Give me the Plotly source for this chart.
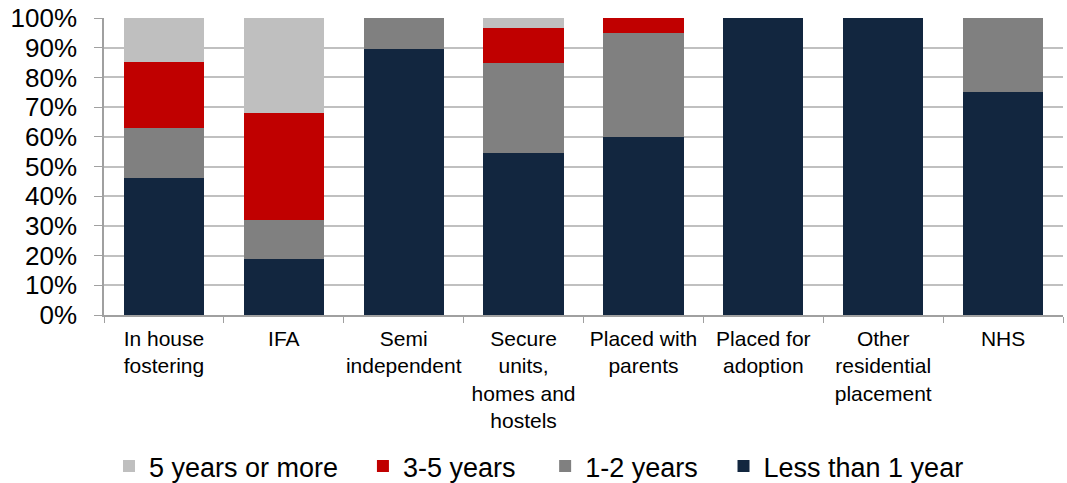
import plotly.graph_objects as go

categories = ["In house<br>fostering", "IFA", "Semi<br>independent",
              "Secure<br>units,<br>homes and<br>hostels", "Placed with<br>parents",
              "Placed for<br>adoption", "Other<br>residential<br>placement", "NHS"]
less_than_1 = [46.1, 18.9, 89.6, 54.5, 60.0, 100, 100, 75]
one_two = [16.9, 13.1, 10.4, 30.3, 35.0, 0, 0, 25]
three_five = [22.2, 36.0, 0, 11.8, 5.0, 0, 0, 0]
five_plus = [14.8, 32.0, 0, 3.4, 0, 0, 0, 0]

series = [
    ("Less than 1 year", less_than_1, "#12263f", "legend4"),
    ("1-2 years", one_two, "#808080", "legend3"),
    ("3-5 years", three_five, "#c00000", "legend2"),
    ("5 years or more", five_plus, "#bfbfbf", "legend"),
]

fig = go.Figure()
for name, vals, col, lg in series:
    fig.add_trace(go.Bar(x=categories, y=vals, name=name, legend=lg,
                         marker=dict(color=col, line=dict(width=0))))

font = "Liberation Sans, Arial, sans-serif"
leg_common = dict(orientation="h", xanchor="left", y=-0.51, yanchor="middle",
                  font=dict(size=27), itemwidth=30, bgcolor="rgba(0,0,0,0)")
fig.update_layout(
    barmode="stack",
    bargap=0.33,
    width=1067, height=500,
    margin=dict(l=104, r=4, t=18, b=185),
    plot_bgcolor="white", paper_bgcolor="white",
    font=dict(family=font, color="#000000"),
    legend=dict(x=0.0052, **leg_common),
    legend2=dict(x=0.270, **leg_common),
    legend3=dict(x=0.460, **leg_common),
    legend4=dict(x=0.646, **leg_common),
    showlegend=True,
)
fig.update_yaxes(range=[0, 100], dtick=10, ticksuffix="%", tickfont=dict(size=26),
                 showgrid=True, gridcolor="#c0c0c0", gridwidth=2,
                 showline=True, linecolor="#a0a0a0", linewidth=1.5,
                 ticks="outside", ticklen=8, tickcolor="#a0a0a0", zeroline=False,
                 automargin=False, ticklabelstandoff=12, ticklabeloverflow="allow")
fig.update_xaxes(tickfont=dict(size=21), showline=True, linecolor="#a0a0a0", linewidth=1.5,
                 ticks="outside", tickson="boundaries", ticklen=6, tickcolor="#a0a0a0",
                 tickangle=0, automargin=False, ticklabelstandoff=4)
fig.write_html("out.html", config={"displayModeBar": False},
               post_script="document.body.style.margin='0px';")
